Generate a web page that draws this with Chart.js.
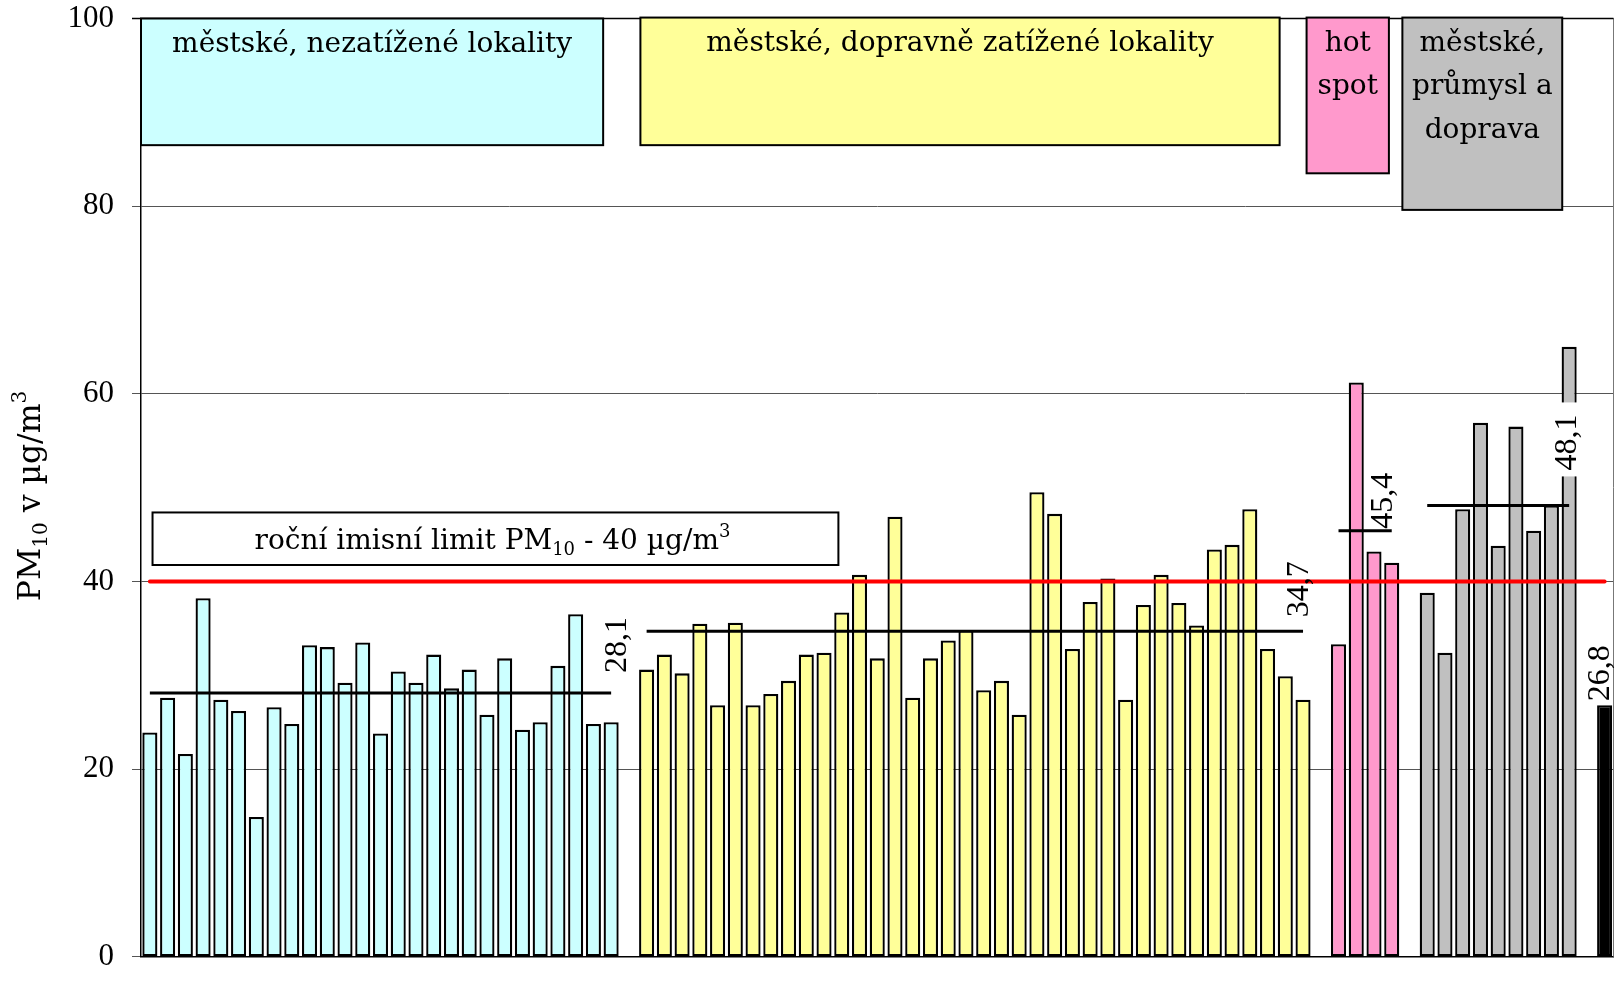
<!DOCTYPE html>
<html lang="cs">
<head>
  <meta charset="UTF-8">
  <title>PM10 – roční průměry</title>
  <script src="https://cdn.jsdelivr.net/npm/chart.js"></script>
  <style>
    html, body { margin: 0; padding: 0; background: #fff; }
    canvas { display: block; }
  </style>
</head>
<body>

<canvas id="pmChart" width="1617" height="981"></canvas>

<script>
  // annual PM10 means per station, µg/m3
  const cyanValues = [23.9, 27.6, 21.6, 38.2, 27.4, 26.2, 14.9, 26.6, 24.8, 33.2, 33.0, 29.2, 33.5, 23.8,
    30.4, 29.2, 32.2, 28.6, 30.6, 25.8, 31.8, 24.2, 25.0, 31.0, 36.5, 24.8, 25.0];
  const yellowValues = [30.6, 32.2, 30.2, 35.5, 26.8, 35.6, 26.8, 28.0, 29.4, 32.2, 32.4, 36.7, 40.7, 31.8,
    46.9, 27.6, 31.8, 33.7, 34.8, 28.4, 29.4, 25.8, 49.5, 47.2, 32.8, 37.8, 40.3, 27.4, 37.5, 40.7,
    37.7, 35.3, 43.4, 43.9, 47.7, 32.8, 29.9, 27.4];
  const pinkValues = [33.3, 61.2, 43.2, 42.0];
  const grayValues = [38.8, 32.4, 47.7, 56.9, 43.8, 56.5, 45.4, 48.1, 65.0];
  const blackValues = [26.8];

  const groupNames = ['městské, nezatížené lokality', 'městské, dopravně zatížené lokality', 'hot spot',
    'městské, průmysl a doprava', 'průměr'];
  const groupTitleLines = [['městské, nezatížené lokality'], ['městské, dopravně zatížené lokality'],
    ['hot', 'spot'], ['městské,', 'průmysl a', 'doprava']];
  const groupColors = ['#CCFFFF', '#FFFF99', '#FF99CC', '#C0C0C0', '#000000'];
  const groupMeans = [28.1, 34.7, 45.4, 48.1];
  const meanLabels = ['28,1', '34,7', '45,4', '48,1'];
  const blackLabel = '26,8';
  const limitValue = 40;
  const yTickValues = [0, 20, 40, 60, 80, 100];

  // one empty slot between the groups
  const groups = [cyanValues, yellowValues, pinkValues, grayValues, blackValues];
  const labels = [];
  const groupStart = [];
  groups.forEach((vals, g) => {
    if (g > 0) labels.push('');
    groupStart.push(labels.length);
    vals.forEach((v, i) => labels.push((g + 1) + '.' + (i + 1)));
  });
  const slotCount = labels.length;
  const groupEnd = g => groupStart[g] + groups[g].length - 1;

  function barData(g) {
    const d = new Array(slotCount).fill(null);
    groups[g].forEach((v, i) => { d[groupStart[g] + i] = v; });
    return d;
  }

  // two end points, nulls between (spanGaps joins them)
  function segment(a, b, v) {
    const d = new Array(slotCount).fill(null);
    d[a] = v;
    d[b] = v;
    return d;
  }

  const datasets = [];
  datasets.push({
    type: 'line',
    label: 'limit',
    data: segment(0, slotCount - 1, limitValue),
    borderColor: '#FF0000',
    borderWidth: 4,
    borderCapStyle: 'round',
    pointRadius: 0,
    spanGaps: true,
    order: -2,
  });
  groupMeans.forEach((m, g) => {
    datasets.push({
      type: 'line',
      label: 'průměr ' + groupNames[g],
      data: segment(groupStart[g], groupEnd(g), m),
      borderColor: '#000',
      borderWidth: 3,
      pointRadius: 0,
      spanGaps: true,
      order: -1,
    });
  });
  groups.forEach((vals, g) => {
    datasets.push({
      type: 'bar',
      label: groupNames[g],
      data: barData(g),
      backgroundColor: groupColors[g],
      borderColor: '#000',
      borderWidth: 2.3,
      borderSkipped: false,
      grouped: false,
      barPercentage: 0.85,
      categoryPercentage: 1.0,
    });
  });

  // boxes in slot units (x) and axis units (y)
  const groupBoxes = [
    { from: 0, to: 26.05, top: 100, bottom: 86.5 },
    { from: 28.15, to: 64.18, top: 100.1, bottom: 86.5 },
    { from: 65.7, to: 70.34, top: 100.1, bottom: 83.5 },
    { from: 71.1, to: 80.11, top: 100.1, bottom: 79.6 },
  ];
  const limitBox = { from: 0.65, to: 39.31, top: 47.35, bottom: 41.75 };
  const meanLabelOffsets = [[6, -20], [-3, -14], [-8, -2], [-1.5, -35]];

  const serif = '"DejaVu Serif", serif';
  const numFont = '"Liberation Serif", serif';

  // draws text pieces with sub/superscripts, centred on cx
  function drawRuns(ctx, runs, cx, cy, size) {
    const small = Math.round(size * 0.65);
    let total = 0;
    runs.forEach(r => {
      ctx.font = (r.sub || r.sup ? small : size) + 'px ' + serif;
      r.w = ctx.measureText(r.t).width;
      total += r.w;
    });
    let xx = cx - total / 2;
    const base = cy + size * 0.3;
    ctx.textAlign = 'left';
    ctx.textBaseline = 'alphabetic';
    runs.forEach(r => {
      ctx.font = (r.sub || r.sup ? small : size) + 'px ' + serif;
      let yy = base;
      if (r.sub) yy += size * 0.2;
      if (r.sup) yy -= size * 0.45;
      ctx.fillText(r.t, xx, yy);
      xx += r.w;
    });
  }

  function rotatedLabel(ctx, text, x, y) {
    ctx.save();
    ctx.translate(x, y);
    ctx.rotate(-Math.PI / 2);
    ctx.font = '32px ' + numFont;
    ctx.textAlign = 'left';
    ctx.textBaseline = 'middle';
    ctx.fillStyle = '#000';
    ctx.fillText(text, 0, 0);
    ctx.restore();
  }

  const decorPlugin = {
    id: 'decor',
    afterDatasetsDraw(chart) {
      const { ctx, chartArea: a, scales: { x, y } } = chart;
      const sx = s => x.getPixelForValue(s - 0.5);
      ctx.save();

      // frame
      ctx.lineWidth = 1;
      ctx.strokeStyle = '#777';
      ctx.beginPath();
      ctx.moveTo(a.right, a.top);
      ctx.lineTo(a.right, a.bottom);
      ctx.stroke();
      ctx.lineWidth = 1.5;
      ctx.strokeStyle = '#000';
      ctx.beginPath();
      ctx.moveTo(a.left - 9, a.top);
      ctx.lineTo(a.right, a.top);
      ctx.stroke();

      // group boxes at the top
      groupBoxes.forEach((b, g) => {
        const x0 = sx(b.from), x1 = sx(b.to);
        const y0 = y.getPixelForValue(b.top), y1 = y.getPixelForValue(b.bottom);
        ctx.fillStyle = groupColors[g];
        ctx.fillRect(x0, y0, x1 - x0, y1 - y0);
        ctx.lineWidth = 2;
        ctx.strokeStyle = '#000';
        ctx.strokeRect(x0, y0, x1 - x0, y1 - y0);
        ctx.fillStyle = '#000';
        ctx.font = '28px ' + serif;
        ctx.textAlign = 'center';
        ctx.textBaseline = 'middle';
        groupTitleLines[g].forEach((t, i) => {
          ctx.fillText(t, (x0 + x1) / 2, y0 + 26 + i * 43.5);
        });
      });

      // limit box
      const lx0 = sx(limitBox.from), lx1 = sx(limitBox.to);
      const ly0 = y.getPixelForValue(limitBox.top), ly1 = y.getPixelForValue(limitBox.bottom);
      ctx.fillStyle = '#fff';
      ctx.fillRect(lx0, ly0, lx1 - lx0, ly1 - ly0);
      ctx.lineWidth = 2;
      ctx.strokeStyle = '#000';
      ctx.strokeRect(lx0, ly0, lx1 - lx0, ly1 - ly0);
      ctx.fillStyle = '#000';
      drawRuns(ctx, [
        { t: 'roční imisní limit PM' }, { t: '10', sub: true },
        { t: ' - ' + limitValue + ' µg/m' }, { t: '3', sup: true },
      ], (lx0 + lx1) / 2 - 3, (ly0 + ly1) / 2 + 2, 28);

      // mean labels
      groupMeans.forEach((m, g) => {
        const px = x.getPixelForValue(groupEnd(g)) + meanLabelOffsets[g][0];
        const py = y.getPixelForValue(m) + meanLabelOffsets[g][1];
        if (g === 3) {
          ctx.fillStyle = '#fff';
          ctx.fillRect(px - 12, py - 68, 26, 74);
        }
        rotatedLabel(ctx, meanLabels[g], px, py);
      });
      const bx = x.getPixelForValue(groupStart[4]) - 3.6;
      const by = y.getPixelForValue(blackValues[0]) - 4;
      rotatedLabel(ctx, blackLabel, bx, by);

      // y axis title
      ctx.save();
      ctx.translate(31, 496);
      ctx.rotate(-Math.PI / 2);
      ctx.fillStyle = '#000';
      drawRuns(ctx, [
        { t: 'PM' }, { t: '10', sub: true }, { t: ' v µg/m' }, { t: '3', sup: true },
      ], 0, 0, 31.5);
      ctx.restore();

      ctx.restore();
    }
  };

  document.addEventListener('DOMContentLoaded', function () {
    const ctx = document.getElementById('pmChart').getContext('2d');

    const config = {
      type: 'bar',
      data: {
        labels: labels,
        datasets: datasets,
      },
      options: {
        responsive: false,
        animation: false,
        devicePixelRatio: 1,
        events: [],
        layout: {
          padding: { top: 18.5, right: 3.5, bottom: 24.3, left: 0 },
        },
        plugins: {
          legend: { display: false },
          tooltip: { enabled: false },
        },
        scales: {
          x: {
            type: 'category',
            offset: true,
            grid: { display: false, drawTicks: false },
            ticks: { display: false },
            border: { display: true, color: '#000', width: 1.5 },
            afterFit: s => { s.height = 0; },
          },
          y: {
            min: 0,
            max: 100,
            afterBuildTicks: s => { s.ticks = yTickValues.map(v => ({ value: v })); },
            ticks: {
              color: '#000',
              padding: 18,
              font: { family: 'Liberation Serif', size: 31 },
            },
            grid: { color: '#555', lineWidth: 1, tickLength: 9, drawTicks: true },
            border: { color: '#000', width: 1.5 },
            afterFit: s => {
              s.width = 141;
              s.paddingTop = 0;
              s.paddingBottom = 0;
            },
          },
        },
      },
      plugins: [decorPlugin],
    };

    new Chart(ctx, config);
  });
</script>

</body>
</html>
